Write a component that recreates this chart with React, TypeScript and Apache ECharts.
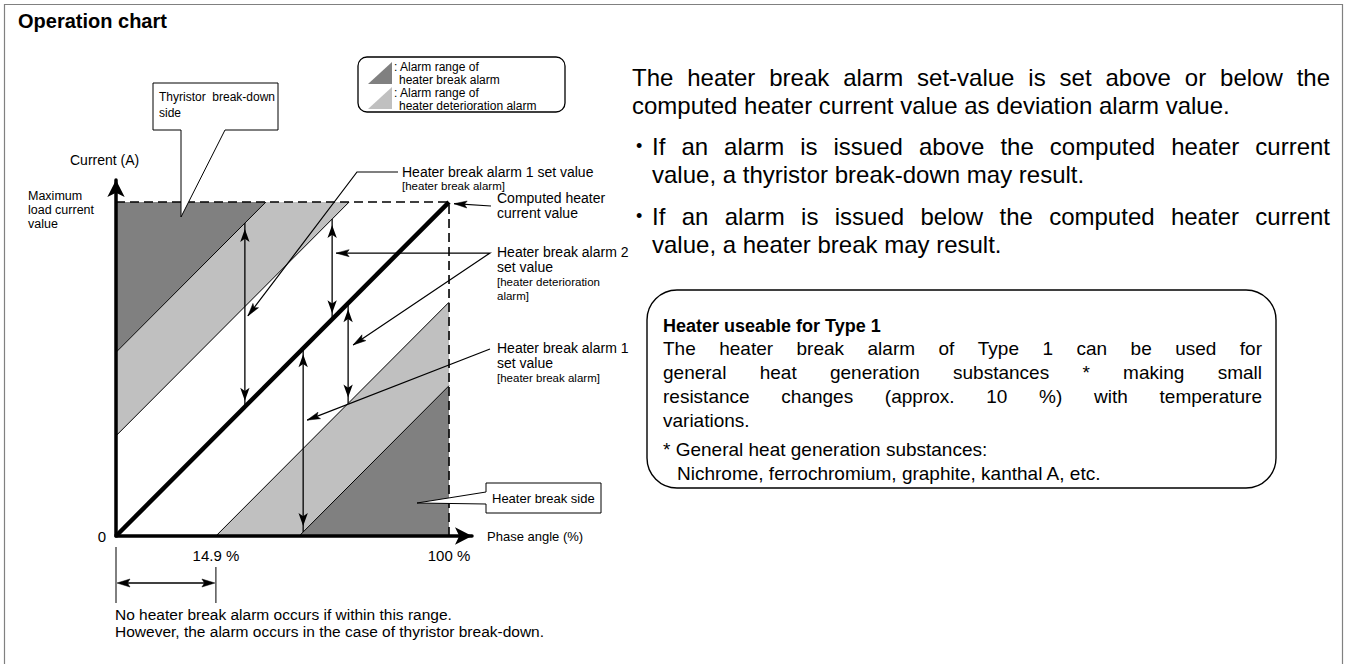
import React, { useEffect, useRef } from "react";
import * as echarts from "echarts";

const FONT = '"Liberation Sans", Arial, Helvetica, sans-serif';
const DARK = "#808080";
const LIGHT = "#c0c0c0";

// ---- axis data (schematic, percent of full scale) ----
const xMax = 106.9;
const yMax = 106.6;
const xTickValues = [30, 100];
const xTickLabels = ["14.9 %", "100 %"];
const yTickValues = [0];
const yTickLabels = ["0"];

// ---- regions ----
const darkUpper = [[0, 55], [0, 100], [45, 100]];
const lightUpper = [[0, 30], [0, 55], [45, 100], [70, 100]];
const lightLower = [[30, 0], [55, 0], [100, 45], [100, 70]];
const darkLower = [[55, 0], [100, 0], [100, 45]];
const regionColors = [DARK, LIGHT, LIGHT, DARK];

// ---- lines ----
const computedCurrent = [[0, 0], [100, 100]];
const boundary1 = [[0, 55], [45, 100]];
const boundary2 = [[0, 30], [70, 100]];
const boundary3 = [[30, 0], [100, 70]];
const boundary4 = [[55, 0], [100, 45]];
const limitFrame = [[0, 100], [100, 100], [100, 0]];

// ---- deviation double arrows [top, bottom] ----
const arrowA = [[38.7, 93.7], [38.7, 38.7]];
const arrowB = [[64.9, 94.9], [64.9, 64.9]];
const arrowC = [[69.7, 69.7], [69.7, 39.7]];
const arrowD = [[56.2, 56.2], [56.2, 1.2]];

// ---- leader targets (data coords) ----
const tipAlarm1Upper = [39.6, 65.9];
const tipComputed = [101.5, 99.5];
const tipAlarm2a = [66.1, 84.7];
const tipAlarm2b = [71.2, 57.2];
const tipAlarm1Lower = [57.4, 34.7];

const rightPara = [
  { t: "The heater break alarm set-value is set above or below the", x0: 632, x1: 1330, y: 77 },
  { t: "computed heater current value as deviation alarm value.", x0: 632, x1: 0, y: 105 },
  { t: "If an alarm is issued above the computed heater current", x0: 652, x1: 1330, y: 146 },
  { t: "value, a thyristor break-down may result.", x0: 652, x1: 0, y: 174 },
  { t: "If an alarm is issued below the computed heater current", x0: 652, x1: 1330, y: 216 },
  { t: "value, a heater break may result.", x0: 652, x1: 0, y: 244 },
];
const bulletsY = [146, 216];
const boxPara = [
  { t: "The heater break alarm of Type 1 can be used for", x0: 663, x1: 1262, y: 348 },
  { t: "general heat generation substances * making small", x0: 663, x1: 1262, y: 372 },
  { t: "resistance changes (approx. 10 %) with temperature", x0: 663, x1: 1262, y: 396 },
  { t: "variations.", x0: 663, x1: 0, y: 420 },
  { t: "* General heat generation substances:", x0: 663, x1: 0, y: 449 },
  { t: "Nichrome, ferrochromium, graphite, kanthal A, etc.", x0: 677, x1: 0, y: 473 },
];

let ctx: CanvasRenderingContext2D | null = null;
function measure(text: string, size: number, weight = "normal") {
  if (!ctx) ctx = document.createElement("canvas").getContext("2d");
  ctx!.font = `${weight} ${size}px ${FONT}`;
  return ctx!.measureText(text).width;
}

function txt(text: string, x: number, y: number, size: number, extra: any = {}) {
  return {
    type: "text",
    x,
    y,
    z: 20,
    style: {
      text,
      fill: "#000",
      fontSize: size,
      fontFamily: FONT,
      fontWeight: extra.weight || "normal",
      textAlign: extra.align || "left",
      textVerticalAlign: "middle",
    },
  };
}

function justified(line: any, size: number, weight = "normal") {
  if (!line.x1) return [txt(line.t, line.x0, line.y, size, { weight })];
  const words = line.t.split(" ");
  const ws = words.map((w: string) => measure(w, size, weight));
  const sum = ws.reduce((a: number, b: number) => a + b, 0);
  const gap = (line.x1 - line.x0 - sum) / (words.length - 1);
  const out: any[] = [];
  let x = line.x0;
  words.forEach((w: string, i: number) => {
    out.push(txt(w, x, line.y, size, { weight }));
    x += ws[i] + gap;
  });
  return out;
}

function head(tip: number[], from: number[], len = 13, half = 3.5) {
  const dx = tip[0] - from[0];
  const dy = tip[1] - from[1];
  const d = Math.hypot(dx, dy) || 1;
  const ux = dx / d, uy = dy / d;
  const nx = -uy, ny = ux;
  const bx = tip[0] - ux * len, by = tip[1] - uy * len;
  return {
    type: "polygon",
    z: 21,
    shape: {
      points: [
        tip,
        [bx + nx * half, by + ny * half],
        [tip[0] - ux * len * 0.8, tip[1] - uy * len * 0.8],
        [bx - nx * half, by - ny * half],
      ],
    },
    style: { fill: "#000", stroke: "#000", lineWidth: 0.5 },
  };
}

function seg(points: number[][], w = 1.2) {
  return {
    type: "polyline",
    z: 20,
    shape: { points },
    style: { stroke: "#000", lineWidth: w, fill: "none" },
  };
}

function arrowSeries(pts: number[][]) {
  return {
    type: "line",
    z: 6,
    showAllSymbol: true,
    symbolSize: [7, 13],
    lineStyle: { color: "#000", width: 1.3 },
    itemStyle: { color: "#000" },
    data: [
      { value: pts[0], symbol: "arrow", symbolRotate: 0, symbolOffset: [0, 6] },
      { value: pts[1], symbol: "arrow", symbolRotate: 180, symbolOffset: [0, -6] },
    ],
  };
}

function lineSeries(data: number[][], width: number, z: number, type: any = "solid") {
  return {
    type: "line",
    z,
    symbol: "none",
    data,
    lineStyle: { color: "#000", width, type },
  };
}

export default function App() {
  const ref = useRef<HTMLDivElement>(null);
  useEffect(() => {
    document.body.style.margin = "0";
    const chart = echarts.init(ref.current!, undefined, { renderer: "svg" });
    const regions = [darkUpper, lightUpper, lightLower, darkLower];
    chart.setOption({
      animation: false,
      backgroundColor: "#fff",
      grid: { left: 116, top: 180, width: 356, height: 356 },
      xAxis: {
        type: "value",
        min: 0,
        max: xMax,
        z: 10,
        splitLine: { show: false },
        axisTick: { show: false },
        axisLine: {
          show: true,
          onZero: false,
          lineStyle: { color: "#000", width: 3.5 },
          symbol: ["none", "arrow"],
          symbolSize: [13, 17],
        },
        axisLabel: {
          customValues: xTickValues,
          margin: 12,
          fontSize: 15,
          fontFamily: FONT,
          color: "#000",
          formatter: (v: number) => xTickLabels[xTickValues.indexOf(v)] ?? "",
        },
      },
      yAxis: {
        type: "value",
        min: 0,
        max: yMax,
        z: 10,
        splitLine: { show: false },
        axisTick: { show: false },
        axisLine: {
          show: true,
          onZero: false,
          lineStyle: { color: "#000", width: 3.5 },
          symbol: ["none", "arrow"],
          symbolSize: [13, 17],
        },
        axisLabel: {
          customValues: yTickValues,
          margin: 10,
          fontSize: 15,
          fontFamily: FONT,
          color: "#000",
          verticalAlign: "middle",
          formatter: (v: number) => yTickLabels[yTickValues.indexOf(v)] ?? "",
        },
      },
      series: [
        {
          type: "custom",
          z: 1,
          clip: false,
          data: regions.map((_, i) => [i]),
          encode: { x: -1, y: -1 },
          renderItem: (_p: any, api: any) => {
            const i = api.value(0);
            return {
              type: "polygon",
              shape: { points: regions[i].map((p) => api.coord(p)) },
              style: { fill: regionColors[i], stroke: "none" },
            };
          },
        },
        lineSeries(boundary1, 1, 3),
        lineSeries(boundary2, 1, 3),
        lineSeries(boundary3, 1, 3),
        lineSeries(boundary4, 1, 3),
        lineSeries(limitFrame, 1.6, 4, [9, 5]),
        lineSeries(computedCurrent, 4.5, 5),
        arrowSeries(arrowA),
        arrowSeries(arrowB),
        arrowSeries(arrowC),
        arrowSeries(arrowD),
      ],
    });

    const px = (p: number[]) => chart.convertToPixel({ gridIndex: 0 }, p) as number[];
    const o = px([0, 0]);
    const g: any[] = [];

    // frame
    g.push({
      type: "rect",
      z: 0,
      shape: { x: 4.5, y: 4.5, width: 1338, height: 700 },
      style: { fill: "none", stroke: "#808080", lineWidth: 1.2 },
    });
    g.push(txt("Operation chart", 18, 21, 20, { weight: "bold" }));

    // legend
    g.push({
      type: "rect",
      z: 19,
      shape: { x: 358, y: 57, width: 207, height: 55, r: 9 },
      style: { fill: "#fff", stroke: "#000", lineWidth: 1.3 },
    });
    g.push({ type: "polygon", z: 20, shape: { points: [[368, 84], [392, 84], [392, 62]] }, style: { fill: DARK } });
    g.push({ type: "polygon", z: 20, shape: { points: [[368, 109], [392, 109], [392, 87]] }, style: { fill: LIGHT } });
    g.push(txt(": Alarm range of", 394, 67, 12));
    g.push(txt("heater break alarm", 399, 80, 12));
    g.push(txt(": Alarm range of", 394, 93, 12));
    g.push(txt("heater deterioration alarm", 399, 106, 12));

    // thyristor callout
    g.push({
      type: "polygon",
      z: 19,
      shape: { points: [[153, 83], [278, 83], [278, 130], [225, 130], [181, 217], [181, 130], [153, 130]] },
      style: { fill: "#fff", stroke: "#000", lineWidth: 1 },
    });
    g.push(txt("Thyristor  break-down", 159, 97, 12));
    g.push(txt("side", 159, 113, 12));

    // heater break side callout
    g.push({
      type: "polygon",
      z: 19,
      shape: { points: [[486, 483], [601, 483], [601, 513], [486, 513], [486, 504], [417, 503], [486, 492]] },
      style: { fill: "#fff", stroke: "#000", lineWidth: 1 },
    });
    g.push(txt("Heater break side", 492, 498, 13));

    // axis titles
    g.push(txt("Current (A)", 70, 160, 14));
    g.push(txt("Maximum", 28, 196, 12.5));
    g.push(txt("load current", 28, 210, 12.5));
    g.push(txt("value", 28, 224, 12.5));
    g.push(txt("Phase angle (%)", 487, 536, 13));

    // range marker below axis
    const t30 = px([30, 0]);
    g.push(seg([[o[0], 547], [o[0], 603]], 1));
    g.push(seg([[t30[0], 567], [t30[0], 603]], 1));
    g.push(seg([[o[0] + 4, 583], [t30[0] - 4, 583]], 1.3));
    g.push(head([o[0] + 1, 583], [t30[0], 583], 13, 4));
    g.push(head([t30[0] - 1, 583], [o[0], 583], 13, 4));
    g.push(txt("No heater break alarm occurs if within this range.", 115, 614, 15.5));
    g.push(txt("However, the alarm occurs in the case of thyristor break-down.", 115, 631, 15.5));

    // leader 1: upper alarm 1
    {
      const tip = px(tipAlarm1Upper);
      g.push(seg([[398, 172], [357, 172], tip], 1.2));
      g.push(head(tip, [357, 172]));
      g.push(txt("Heater break alarm 1 set value", 402, 172, 14));
      g.push(txt("[heater break alarm]", 402, 186, 11.5));
    }
    // leader 2: computed
    {
      const tip = px(tipComputed);
      g.push(seg([[491, 206], tip], 1.2));
      g.push(head(tip, [491, 206]));
      g.push(txt("Computed heater", 497, 198, 14));
      g.push(txt("current value", 497, 213, 14));
    }
    // leader 3: alarm 2
    {
      const a = px(tipAlarm2a);
      const b = px(tipAlarm2b);
      g.push(seg([a, [490, 253], b], 1.2));
      g.push(head(a, [490, 253]));
      g.push(head(b, [490, 253]));
      g.push(txt("Heater break alarm 2", 497, 252, 14));
      g.push(txt("set value", 497, 267, 14));
      g.push(txt("[heater deterioration", 497, 282, 11.5));
      g.push(txt("alarm]", 497, 296, 11.5));
    }
    // leader 4: lower alarm 1
    {
      const tip = px(tipAlarm1Lower);
      g.push(seg([[490, 349], tip], 1.2));
      g.push(head(tip, [490, 349]));
      g.push(txt("Heater break alarm 1", 497, 348, 14));
      g.push(txt("set value", 497, 363, 14));
      g.push(txt("[heater break alarm]", 497, 378, 11.5));
    }

    // right text
    rightPara.forEach((l) => g.push(...justified(l, 24)));
    bulletsY.forEach((y) => g.push(txt("•", 636, y, 18)));
    g.push({
      type: "rect",
      z: 19,
      shape: { x: 647, y: 290, width: 629, height: 198, r: 30 },
      style: { fill: "#fff", stroke: "#000", lineWidth: 1.4 },
    });
    g.push(txt("Heater useable for Type 1", 663, 326, 18, { weight: "bold" }));
    boxPara.forEach((l) => g.push(...justified(l, 19)));

    chart.setOption({ graphic: { elements: g } });
    return () => chart.dispose();
  }, []);
  return (
    <div
      ref={ref}
      style={{ position: "fixed", left: 0, top: 0, width: 1348, height: 664, background: "#fff" }}
    />
  );
}
